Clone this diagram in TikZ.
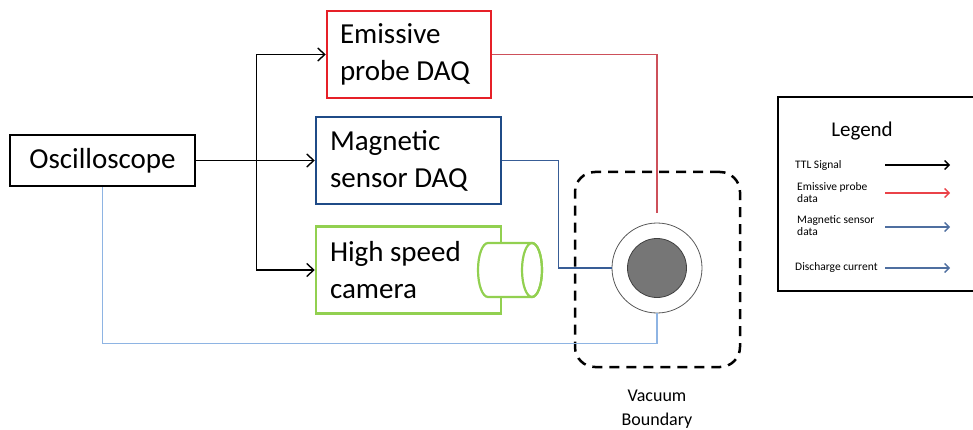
\documentclass[tikz,border=0pt]{standalone}
\usepackage{fontspec}
\setmainfont{Carlito}
\usepackage{tikz}
\usetikzlibrary{arrows.meta}
\definecolor{probered}{RGB}{230,32,40}
\definecolor{probeline}{RGB}{205,80,90}
\definecolor{magblue}{RGB}{31,75,135}
\definecolor{magline}{RGB}{56,93,150}
\definecolor{camgreen}{RGB}{146,208,80}
\definecolor{dischblue}{RGB}{142,180,227}
\definecolor{legblue}{RGB}{79,111,160}
\definecolor{coregray}{RGB}{118,118,118}

\begin{document}
\begin{tikzpicture}[x=1pt, y=-1pt,
	box/.style={draw, line width=2.5pt, inner xsep=14pt, inner ysep=0pt, minimum height=87pt, align=flush left, font=\fontsize{29}{37}\selectfont},
	ttl/.style={line width=1.4pt, -{Straight Barb[length=7pt, width=13pt, line width=1.4pt]}},
	legarrow/.style={line width=1.3pt, -{Straight Barb[length=4.5pt, width=9pt, line width=1.3pt]}},
	legtext/.style={anchor=west, align=flush left, inner sep=0pt, font=\fontsize{11.5}{12}\selectfont}]
	\clip (0,0) rectangle (973,430);
	% instruments
	\node[box, draw=black, minimum width=185pt, minimum height=51pt, inner xsep=0pt, align=center] (osc) at (102.5,160.5) {Oscilloscope};
	\node[box, draw=probered, text width=138pt, inner xsep=13pt] (emi) at (409,54.5) {Emissive\\probe DAQ};
	\node[box, draw=magblue, text width=157pt] (mag) at (408.5,160.5) {Magnetic\\sensor DAQ};
	\node[box, draw=camgreen, text width=157pt] (cam) at (408.5,270) {High speed\\camera};
	% camera lens
	\filldraw[camgreen, fill=white, line width=2.2pt] (488,243) arc[start angle=-90, end angle=-270, x radius=10, y radius=27] -- (532,297) arc[start angle=90, end angle=-90, x radius=10, y radius=27] -- cycle;
	\draw[camgreen, line width=2.2pt] (532,270) ellipse[x radius=10, y radius=27];
	% vacuum vessel
	\node[draw, line width=2.5pt, dash pattern=on 10pt off 7pt, rounded corners=20pt, minimum width=165pt, minimum height=195pt] (vac) at (657.5,269.5) {};
	\node[circle, draw=black!65, line width=0.8pt, fill=white, minimum size=90pt, inner sep=0pt] (ring) at (657,268) {};
	\node[circle, draw=black!75, line width=0.8pt, fill=coregray, minimum size=59pt, inner sep=0pt] (core) at (ring.center) {};
	\node[align=center, font=\fontsize{18}{24}\selectfont] (vaclabel) at (657,409) {Vacuum\\Boundary};
	% connections
	\coordinate (split) at ([xshift=60pt]osc.east);
	\draw[line width=1.4pt] (osc.east) -- (split);
	\draw[ttl] (split) |- (emi.west);
	\draw[ttl] (split) -- (mag.west);
	\draw[ttl] (split) |- (cam.west);
	\draw[probeline, line width=1.2pt] (emi.east) -| ([yshift=10pt]ring.north);
	\draw[magline, line width=1.5pt] (mag.east) -- ++(56,0) |- (ring.west);
	\draw[dischblue, line width=1.3pt] (osc.south) |- ([yshift=-30pt]ring.south) -- (ring.south);
	% legend
	\draw[line width=2.5pt] (990,97) -| (778,291) -- (990,291);
	\node[font=\fontsize{21}{24}\selectfont] (legtitle) at (862,131) {Legend};
	\node[legtext] (ttltext) at (795,165) {TTL Signal};
	\node[legtext] (emitext) at (797,193) {Emissive probe\\data};
	\node[legtext] (magtext) at (797,226) {Magnetic sensor\\data};
	\node[legtext] (dischtext) at (795,267) {Discharge current};
	\draw[legarrow, black] (885,165) -- (950,165);
	\draw[legarrow, probered!85!white] (885,193) -- (950,193);
	\draw[legarrow, legblue] (885,227) -- (950,227);
	\draw[legarrow, legblue] (885,268) -- (950,268);
\end{tikzpicture}
\end{document}
